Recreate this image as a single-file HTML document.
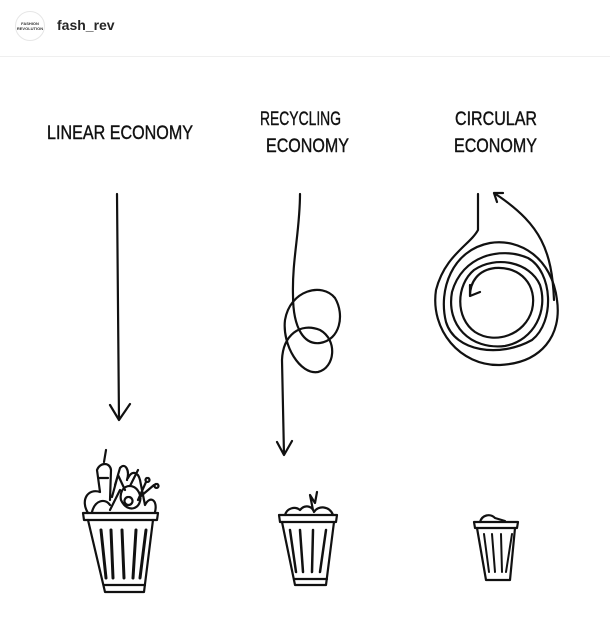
<!DOCTYPE html>
<html><head><meta charset="utf-8"><style>
body{margin:0;width:610px;height:633px;background:#fff;overflow:hidden;font-family:"Liberation Sans",sans-serif}
.hdr{height:56px;border-bottom:1px solid #efefef;position:relative}
.av{position:absolute;left:15px;top:11px;width:30px;height:30px;border-radius:50%;border:1px solid #e6e6e6;font-size:4px;font-weight:bold;text-align:center;line-height:5px;box-sizing:border-box;padding-top:9px;color:#333}
.nm{position:absolute;left:57px;top:17px;font-size:14px;font-weight:bold;color:#262626}
</style></head><body>
<div class="hdr"><div class="av">FASHION<br>REVOLUTION</div><div class="nm">fash_rev</div></div>
<svg width="610" height="576" viewBox="0 57 610 576" style="position:absolute;left:0;top:57px" fill="none" stroke="#111" stroke-width="2.2" stroke-linecap="round" stroke-linejoin="round">
<g font-family="Liberation Sans Narrow, Liberation Sans, sans-serif" font-size="19" fill="#111" stroke="#111" stroke-width="0.4" lengthAdjust="spacingAndGlyphs">
<text x="47" y="139" textLength="146" lengthAdjust="spacingAndGlyphs">LINEAR ECONOMY</text>
<text x="260" y="125" textLength="81" lengthAdjust="spacingAndGlyphs">RECYCLING</text>
<text x="266" y="152" textLength="83" lengthAdjust="spacingAndGlyphs">ECONOMY</text>
<text x="455" y="125" textLength="82" lengthAdjust="spacingAndGlyphs">CIRCULAR</text>
<text x="454" y="152" textLength="83" lengthAdjust="spacingAndGlyphs">ECONOMY</text>
</g>
<path d="M117 194 L119 420 M110 405 L119 420 L130 404"/>
<path d="M300 194 C300 230 292 260 293 295 C293 330 305 345 320 343 C340 340 345 315 335 298 C322 282 290 290 285 320 C282 345 300 375 318 372 C335 368 338 340 320 330 C300 322 283 335 282 360 L284 455 M277 442 L284 455 L292 441"/>
<path d="M478 194 L478 230 C470 245 445 255 436 290 C430 330 460 366 500 365 C542 363 562 335 557 300 C552 258 520 238 490 243 C452 250 438 290 446 322 C455 352 500 358 532 340 C555 322 553 272 528 258 C500 246 462 256 452 292 C446 325 470 350 505 346 C535 340 548 310 540 285 C530 262 496 255 474 270 C456 285 455 318 475 332 C495 345 525 335 532 310 C538 285 520 266 495 268 C478 270 470 282 470 296 M470 296 L470 285 M470 296 L480 292"/>
<path d="M554 300 C552 250 540 225 500 197 M494 193 L500 197 M494 193 L497 202 M494 193 L503 193"/>
<!-- big bin -->
<path d="M83 513 L158 513 L157 520 L84 520 Z"/>
<path d="M88 520 L105 592 L144 592 L153 520"/>
<path d="M104 585 L145 585"/>
<path d="M101 530 L106 578 M111 530 L113 578 M122 530 L124 578 M136 530 L133 578 M146 530 L140 578" stroke-width="3"/>
<path d="M88 513 C80 500 88 488 100 492 L97 470 C100 462 110 462 111 470 L110 500 M104 462 L106 450 M115 485 L120 468 C125 462 130 470 127 480 M128 478 C132 470 138 472 140 480 L145 505 C150 495 158 500 155 512 M121 500 C118 485 135 480 140 495 C143 508 128 515 121 500 Z M128 497 a4 4 0 1 0 1 0 M138 500 L146 482 M147 478 a2 2 0 1 0 1 0 M141 496 L154 485 M156 484 a2 2 0 1 0 1 0 M110 510 L120 490 M92 512 C95 500 105 498 110 505 M99 478 L108 478 M112 497 L118 475 L125 490 M130 486 L138 470"/>
<!-- medium bin -->
<path d="M279 515 L337 515 L336 522 L280 522 Z"/>
<path d="M282 522 L295 585 L326 585 L334 522"/>
<path d="M294 579 L327 579"/>
<path d="M290 530 L296 572 M300 530 L303 572 M313 530 L312 572 M326 530 L320 572" stroke-width="2.5"/>
<path d="M285 515 C287 508 295 506 300 510 C305 504 312 506 314 512 C318 505 330 506 333 515 M313 510 L310 495 L315 503 L317 492"/>
<!-- small bin -->
<path d="M474 522 L518 522 L517 528 L475 528 Z"/>
<path d="M477 528 L486 580 L510 580 L515 528"/>
<path d="M484 534 L489 572 M492 534 L495 572 M501 534 L502 572 M512 534 L506 572" stroke-width="2"/>
<path d="M480 522 C482 515 490 513 495 518 L505 521"/>
</svg>
</body></html>
